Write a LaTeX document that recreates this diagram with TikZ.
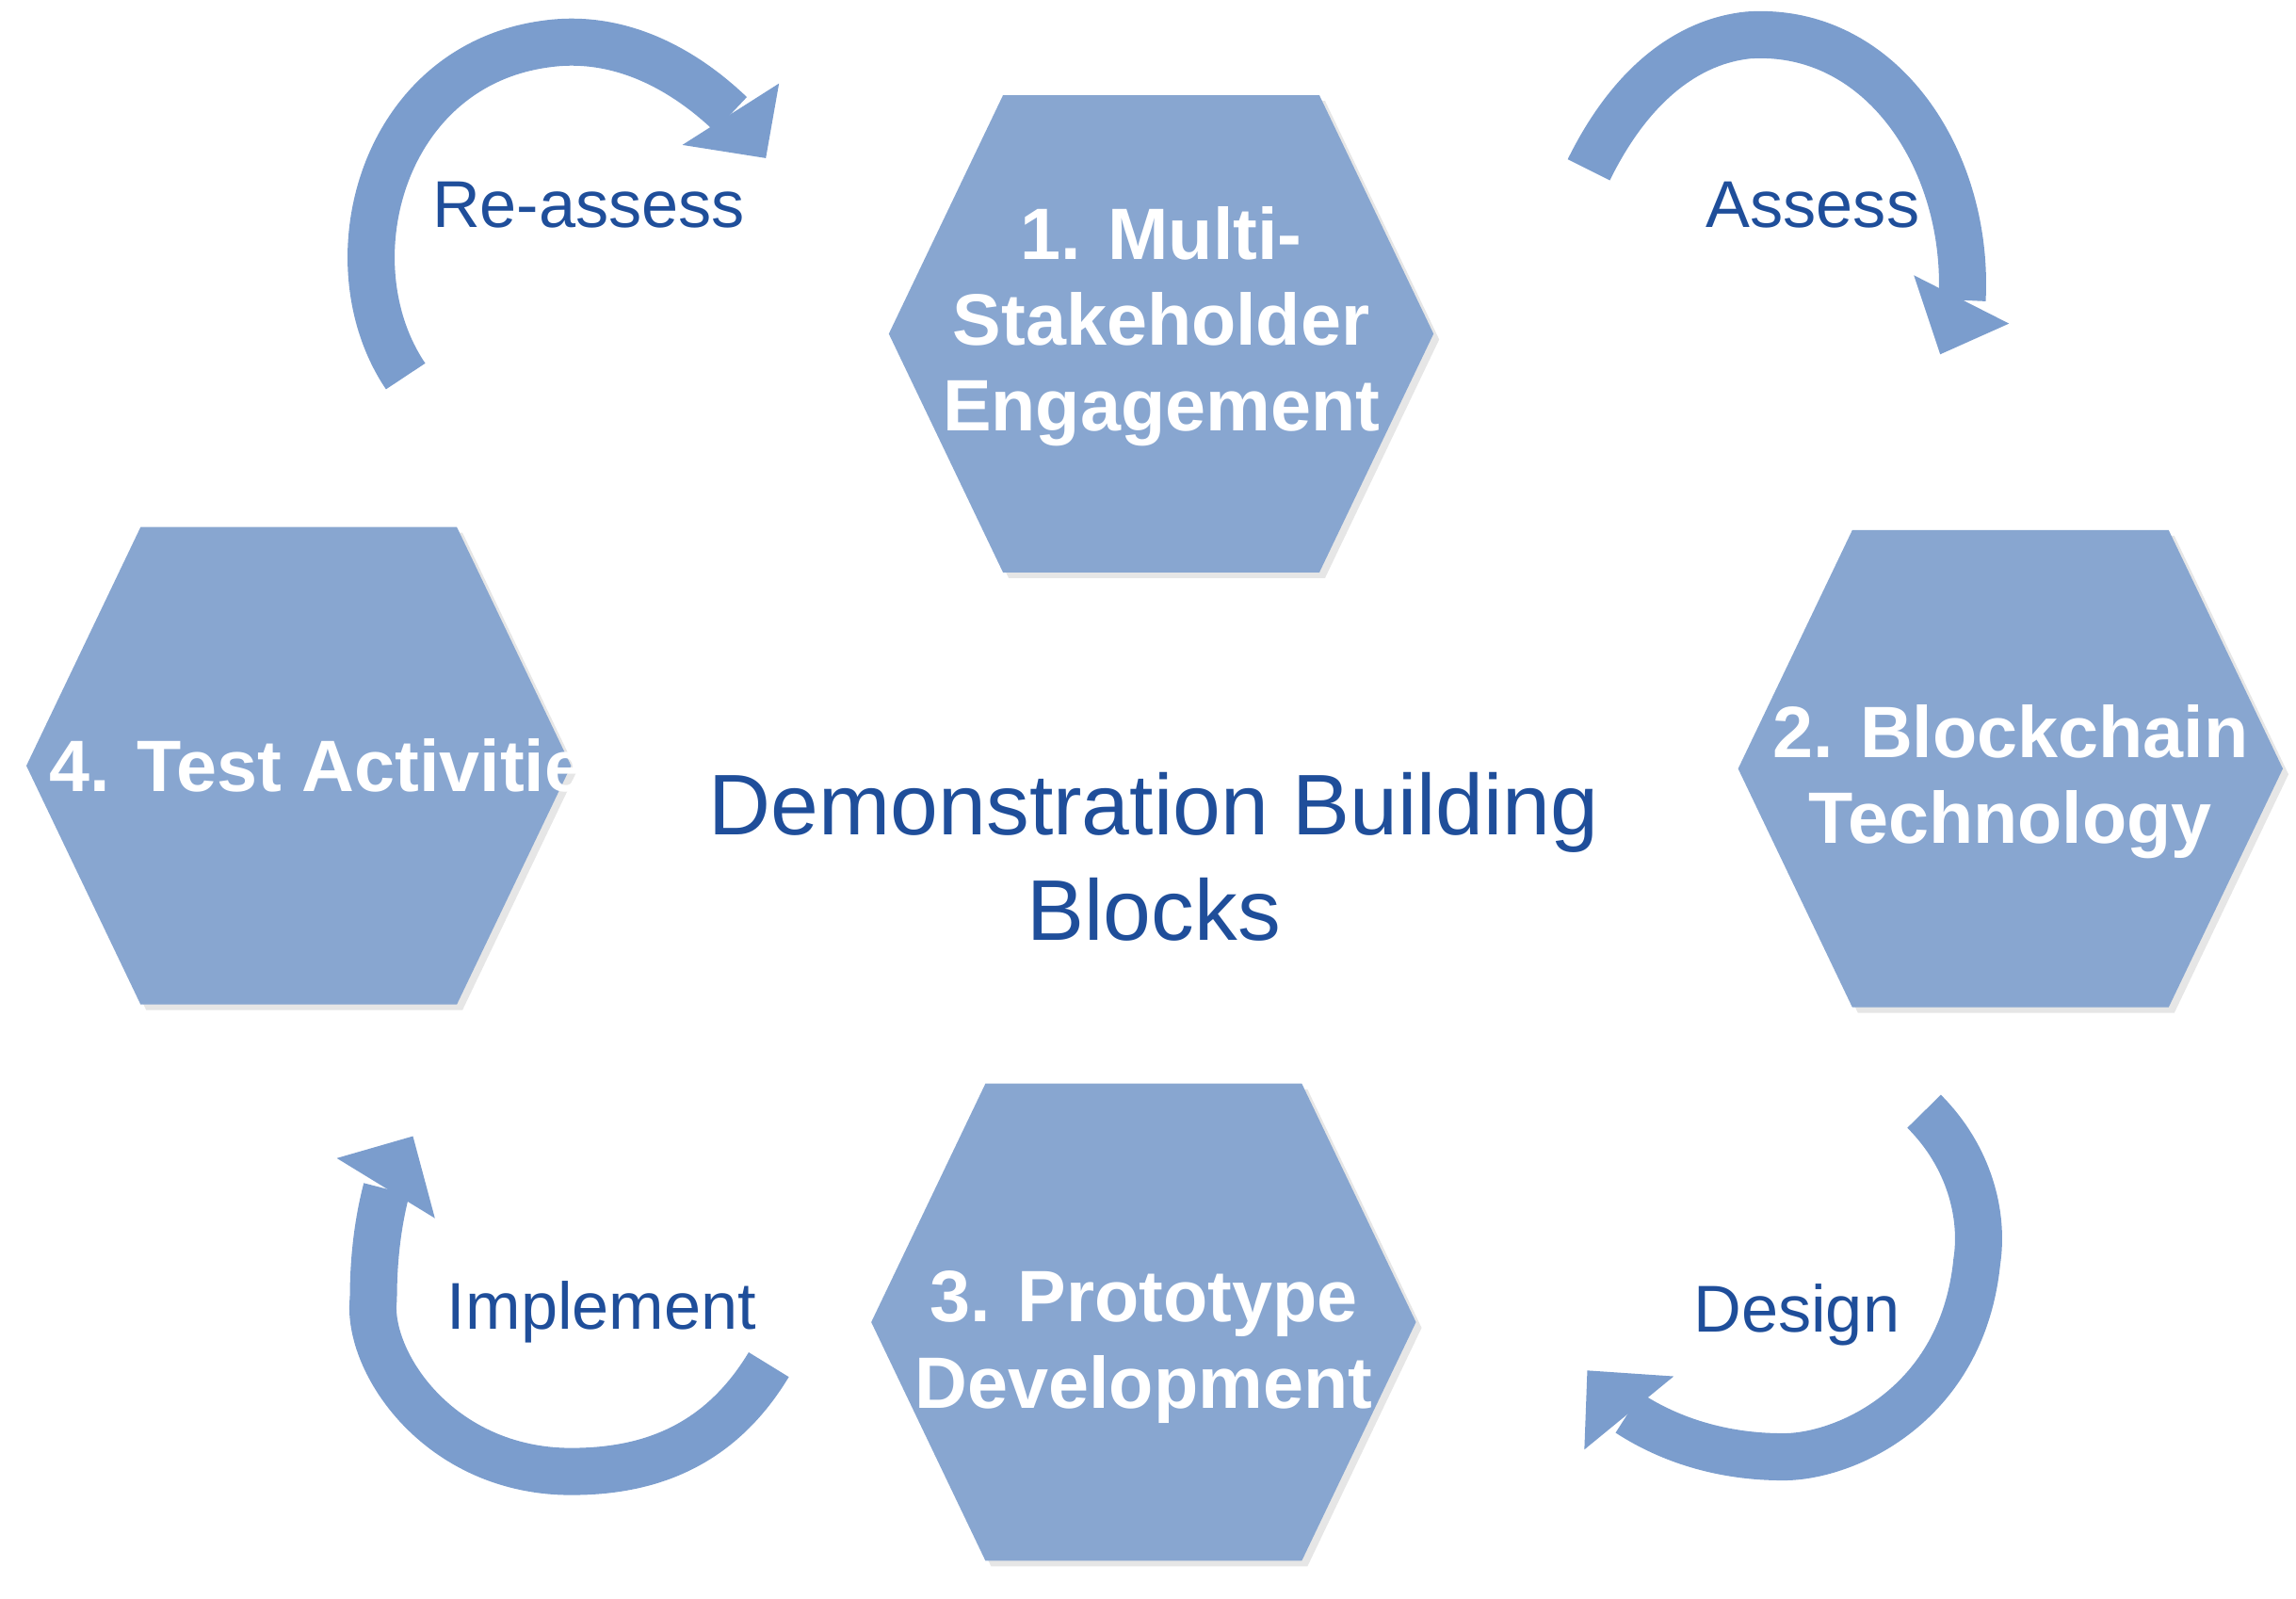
\documentclass[tikz,border=0pt]{standalone}
\usepackage{fontspec}
\setmainfont{Liberation Sans}
\usetikzlibrary{shadows}
\definecolor{hexfill}{HTML}{88A6D0}
\definecolor{arrowc}{HTML}{7B9DCD}
\definecolor{labc}{HTML}{1F4E9A}
\tikzset{
  hexa/.style={fill=hexfill, draw=none, drop shadow={opacity=0.2, shadow xshift=0.06cm, shadow yshift=-0.06cm}},
  hext/.style={text=white, font=\fontsize{22}{26}\selectfont\bfseries, align=center},
  cyc/.style={draw=arrowc, line width=0.5cm},
  head/.style={fill=arrowc, draw=none},
  lab/.style={text=labc, font=\fontsize{20}{24}\selectfont}
}
\newcommand{\myhex}[3]{%
  \fill[hexa] (#2-186,#3) -- (#2-108,#3-163) -- (#2+108,#3-163) -- (#2+186,#3) -- (#2+108,#3+163) -- (#2-108,#3+163) -- cycle;
  \coordinate (#1) at (#2,#3);}
\begin{document}
\begin{tikzpicture}[x=0.01555cm,y=-0.01555cm]
\useasboundingbox (0,0) rectangle (1568,1092);
\myhex{h1}{793}{228}
\myhex{h2}{1373}{525}
\myhex{h3}{781}{903}
\myhex{h4}{204}{523}
\node[hext] (t1) at (793,223) {1. Multi-\\Stakeholder\\Engagement};
\node[hext] (t2) at (1373,534) {2. Blockchain\\Technology};
\node[hext] (t3) at (781,920) {3. Prototype\\Development};
\node[hext, anchor=west] (t4) at (26,523) {4. Test Activities};
\node[text=labc, font=\fontsize{26}{32}\selectfont, align=center] (c) at (788,585) {Demonstration Building\\Blocks};
% arrow bodies
\coordinate (a0) at (277,257); \coordinate (a1) at (499,78);
\coordinate (b0) at (1085,116); \coordinate (b1) at (1340,205);
\coordinate (c0) at (1314,759); \coordinate (c1) at (1112,965);
\coordinate (d0) at (525,932); \coordinate (d1) at (264,812);
\draw[cyc] (a0) .. controls (225,180) and (260,45) .. (373,30) .. controls (430,22) and (475,55) .. (a1);
\draw[cyc] (b0) .. controls (1115,55) and (1155,28) .. (1194,24) .. controls (1285,18) and (1345,110) .. (b1);
\draw[cyc] (c0) .. controls (1345,790) and (1355,830) .. (1350,862) .. controls (1340,960) and (1260,995) .. (1218,995) .. controls (1170,995) and (1135,980) .. (c1);
\draw[cyc] (d0) .. controls (490,990) and (440,1005) .. (390,1005) .. controls (300,1005) and (250,930) .. (255,887) .. controls (255,860) and (258,835) .. (d1);
% arrow heads
\fill[head] (532,57) -- (466,99) -- (523,108) -- cycle;
\fill[head] (1307,188) -- (1372,221) -- (1325,242) -- cycle;
\fill[head] (1143,940) -- (1082,990) -- (1084,936) -- cycle;
\fill[head] (230,791) -- (297,832) -- (282,776) -- cycle;
\node[lab] (l1) at (402,140) {Re-assess};
\node[lab] (l2) at (1238,140) {Assess};
\node[lab] (l3) at (1227,898) {Design};
\node[lab] (l4) at (411,896) {Implement};
\end{tikzpicture}
\end{document}
